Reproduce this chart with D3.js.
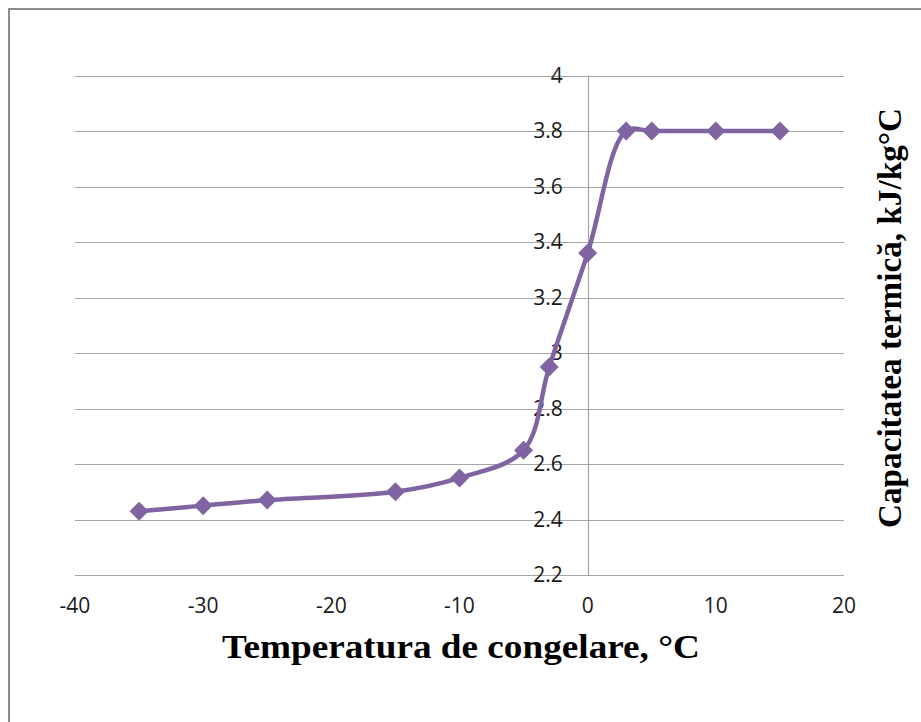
<!DOCTYPE html>
<html>
<head>
<meta charset="utf-8">
<script src="https://cdn.jsdelivr.net/npm/d3@7"></script>
<style>
  html, body { margin: 0; padding: 0; background: #fff; }
</style>
</head>
<body>
<div class="chart"></div>
<script>
// Data
const temps = [-35, -30, -25, -15, -10, -5, -3, 0, 3, 5, 10, 15]
const capacity = [2.43, 2.45, 2.47, 2.50, 2.55, 2.65, 2.95, 3.36, 3.80, 3.80, 3.80, 3.80]
const xTicks = [-40, -30, -20, -10, 0, 10, 20]
const yTicks = [2.2, 2.4, 2.6, 2.8, 3, 3.2, 3.4, 3.6, 3.8, 4]
const xTitle = 'Temperatura de congelare, °C'
const yTitle = 'Capacitatea termică, kJ/kg°C'

const width = 921
const height = 722
const purple = '#8064a2'

const svg = d3.select('.chart').append('svg')
  .attr('width', width)
  .attr('height', height)

// outer frame (runs off the right / bottom edge like the original)
svg.append('rect')
  .attr('x', 9).attr('y', 9)
  .attr('width', 940).attr('height', 740)
  .attr('fill', 'none')
  .attr('stroke', '#8c8c8c')
  .attr('stroke-width', 2)

const x = d3.scaleLinear().domain([-40, 20]).range([75, 844])
const y = d3.scaleLinear().domain([2.2, 4]).range([575, 75.5])

// horizontal gridlines
svg.append('g')
  .selectAll('line')
  .data(yTicks)
  .join('line')
  .attr('x1', x(-40)).attr('x2', x(20))
  .attr('y1', d => Math.round(y(d)) + 0.5)
  .attr('y2', d => Math.round(y(d)) + 0.5)
  .attr('stroke', '#a6a6a6')
  .attr('stroke-width', 1.2)

// vertical axis line at x = 0
svg.append('line')
  .attr('x1', Math.round(x(0)) + 0.5).attr('x2', Math.round(x(0)) + 0.5)
  .attr('y1', y(4)).attr('y2', y(2.2))
  .attr('stroke', '#a6a6a6')
  .attr('stroke-width', 1.2)

// y tick labels, sitting left of the axis
svg.append('g')
  .selectAll('text')
  .data(yTicks)
  .join('text')
  .attr('x', x(0) - 25)
  .attr('y', d => y(d) + 7)
  .attr('text-anchor', 'end')
  .attr('font-family', 'Open Sans, sans-serif')
  .attr('font-size', 21)
  .attr('fill', '#1a1a1a')
  .text(d => d3.format('~g')(d))

// x tick labels
svg.append('g')
  .selectAll('text')
  .data(xTicks)
  .join('text')
  .attr('x', d => x(d))
  .attr('y', 613)
  .attr('text-anchor', 'middle')
  .attr('font-family', 'Open Sans, sans-serif')
  .attr('font-size', 21)
  .attr('fill', '#1a1a1a')
  .text(d => d)

// smoothed line
const line = d3.line()
  .x((d, i) => x(temps[i]))
  .y(d => y(d))
  .curve(d3.curveCatmullRom.alpha(0.5))

svg.append('path')
  .datum(capacity)
  .attr('d', line)
  .attr('fill', 'none')
  .attr('stroke', purple)
  .attr('stroke-width', 4.5)

// diamond markers
svg.append('g')
  .selectAll('path')
  .data(capacity)
  .join('path')
  .attr('transform', (d, i) => `translate(${x(temps[i])},${y(d)})`)
  .attr('d', 'M0,-9.5L9.5,0L0,9.5L-9.5,0Z')
  .attr('fill', purple)

// axis titles
svg.append('text')
  .attr('x', 222)
  .attr('y', 658)
  .attr('textLength', 478)
  .attr('lengthAdjust', 'spacingAndGlyphs')
  .attr('font-family', 'Liberation Serif, serif')
  .attr('font-weight', 'bold')
  .attr('font-size', 34)
  .text(xTitle)

svg.append('text')
  .attr('transform', 'translate(901,528) rotate(-90)')
  .attr('textLength', 420)
  .attr('lengthAdjust', 'spacingAndGlyphs')
  .attr('font-family', 'Liberation Serif, serif')
  .attr('font-weight', 'bold')
  .attr('font-size', 33)
  .text(yTitle)
</script>
</body>
</html>
